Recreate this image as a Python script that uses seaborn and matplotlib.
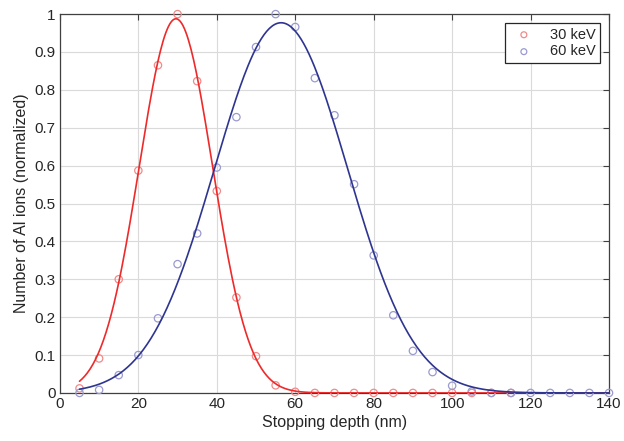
from matplotlib import pyplot as plt
import pandas as pd
import seaborn as sns
import numpy as np

# stopping depth (nm) of the sampled points
depth = [5, 10, 15, 20, 25, 30, 35, 40, 45, 50, 55, 60, 65, 70, 75, 80, 85, 90,
         95, 100, 105, 110, 115, 120, 125, 130, 135, 140]

# normalized counts
kev30 = [0.012, 0.091, 0.300, 0.587, 0.865, 1.000, 0.823, 0.533, 0.252, 0.097,
         0.020, 0.003, 0, 0, 0, 0, 0, 0, 0, 0, 0, 0, 0]
kev60 = [0.000, 0.008, 0.047, 0.100, 0.197, 0.340, 0.421, 0.595, 0.728, 0.913,
         1.000, 0.966, 0.831, 0.733, 0.551, 0.363, 0.205, 0.111, 0.055, 0.019,
         0.004, 0, 0, 0, 0, 0, 0, 0]

labels = ["30 keV", "60 keV"]


def gauss_fit(x, y):
    # weighted log-parabola fit (Caruana), good enough for a clean peak
    x = np.asarray(x, float)
    y = np.asarray(y, float)
    m = y > 0.004
    c = np.polyfit(x[m], np.log(y[m]), 2, w=y[m])
    xs = np.linspace(5, 140, 400)
    return xs, np.exp(np.polyval(c, xs))


df30 = pd.DataFrame({"depth": depth[:len(kev30)], "n": kev30})
df60 = pd.DataFrame({"depth": depth, "n": kev60})
fx30, fy30 = gauss_fit(df30["depth"], df30["n"])
fx60, fy60 = gauss_fit(df60["depth"], df60["n"])

sns.set_style("whitegrid")
plt.rcParams["font.family"] = ["Liberation Sans", "DejaVu Sans"]

f = plt.figure(figsize=(6.24, 4.41), dpi=100)
ax = f.add_axes([0.096, 0.109, 0.88, 0.859])

red_pt = "#f08a8a"
blue_pt = "#9a9ad0"
sns.scatterplot(data=df30, x="depth", y="n", ax=ax, marker="o", s=28, clip_on=False,
                facecolors="none", edgecolor=red_pt, linewidth=0.9, label=labels[0], zorder=3)
sns.scatterplot(data=df60, x="depth", y="n", ax=ax, marker="o", s=28, clip_on=False,
                facecolors="none", edgecolor=blue_pt, linewidth=0.9, label=labels[1], zorder=3)
sns.lineplot(x=fx30, y=fy30, ax=ax, color="#ee2a2a", linewidth=1.2, zorder=4)
sns.lineplot(x=fx60, y=fy60, ax=ax, color="#2e3590", linewidth=1.2, zorder=4)

ax.set_xlim(0, 140)
ax.set_ylim(0, 1)
ax.set_xticks(np.arange(0, 141, 20))
ax.set_yticks(np.arange(0, 1.01, 0.1))
ax.set_yticklabels(["0", "0.1", "0.2", "0.3", "0.4", "0.5", "0.6", "0.7", "0.8", "0.9", "1"])
ax.set_xlabel("Stopping depth (nm)", fontsize=11.5, color="#262626", labelpad=3)
ax.set_ylabel("Number of Al ions (normalized)", fontsize=11.5, color="#262626", labelpad=4)

ax.grid(True, color="#dadada", linewidth=0.8)
for s in ax.spines.values():
    s.set_visible(True)
    s.set_color("#404040")
    s.set_linewidth(0.9)
    s.set_zorder(2.5)
ax.tick_params(direction="in", length=4, width=0.8, color="#404040",
               top=True, right=True, labelsize=11, labelcolor="#262626", pad=3)

leg = ax.legend(loc="upper right", fontsize=10.5, frameon=True, fancybox=False,
                edgecolor="#262626", framealpha=1, handletextpad=0.8,
                borderpad=0.3, labelspacing=0.2, markerscale=0.8,
                borderaxespad=0, bbox_to_anchor=(0.984, 0.976))
leg.get_frame().set_linewidth(0.9)

f.savefig("out.png", dpi=100)
